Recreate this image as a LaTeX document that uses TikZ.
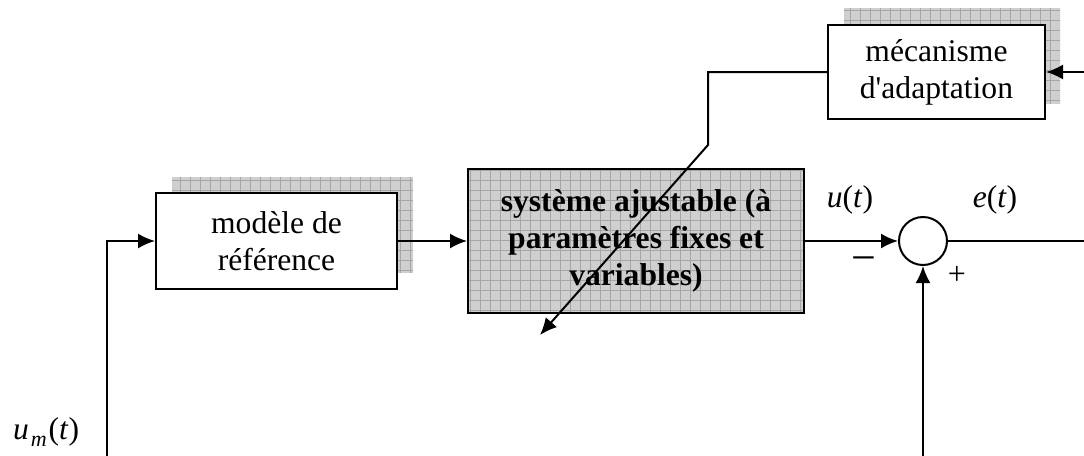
\documentclass[tikz,border=0pt]{standalone}
\usepackage{fontspec}
\setmainfont{Liberation Serif}[Ligatures=TeXOff]
\usetikzlibrary{arrows.meta}
\newcommand{\shadowgrid}[4]{%
  \fill[gray!38] (#1,#2) rectangle (#3,#4);
  \begin{scope}
    \clip (#1,#2) rectangle (#3,#4);
    \draw[gray!70, line width=0.35pt, step=5pt] (#1,#2) grid (#3,#4);
  \end{scope}}
\begin{document}
\begin{tikzpicture}[x=0.5pt,y=-0.5pt,
  line width=1pt,
  >={Latex[length=8.5pt,width=7.5pt]},
  txt/.style={font=\fontsize{15.8}{18.4}\selectfont, align=center},
  blk/.style={draw, line width=1pt, fill=white, inner sep=0pt, txt},
  lbl/.style={font=\fontsize{15.8}{18.4}\selectfont, inner sep=0pt}]
\useasboundingbox (0,0) rectangle (1084,456);
% shadows
\shadowgrid{172}{177}{413}{273}
\shadowgrid{844}{8}{1060}{104}
% blocks
\node[blk, minimum width=120.5pt, minimum height=48pt] (modele) at (276.5,241) {modèle de\\référence};
\node[blk, minimum width=108.5pt, minimum height=47pt] (meca) at (936.5,72) {mécanisme\\d'adaptation};
% adjustable system (patterned fill)
\shadowgrid{468}{169}{804}{313}
\node[draw, line width=1pt, inner sep=0pt, minimum width=168pt, minimum height=72pt, txt, font=\fontsize{15.8}{18.4}\selectfont\bfseries] (sys) at (636,241) {système ajustable (à\\paramètres fixes et\\variables)};
\node[draw, circle, line width=1pt, minimum size=24pt, inner sep=0pt, fill=white] (sum) at (923,241) {};
% coordinates
\coordinate (in) at (107,456);
\coordinate (eout) at (1084,241);
\coordinate (ybot) at (923,456);
\coordinate (mecin) at (1084,72);
\coordinate (k1) at (708,145);
\coordinate (tip) at (540,335);
% connectors
\draw[->] (in) |- (modele.west);
\draw[->] (modele.east) -- (sys.west);
\draw[->] (sys.east) -- (sum.west);
\draw (sum.east) -- (eout);
\draw[->] (ybot) -- (sum.south);
\draw[->] (mecin) -- (meca.east);
\draw[->] (meca.west) -| (k1) -- (tip);
% labels
\node[lbl] (lu) at (850,200) {\textit{u}(\textit{t})};
\node[lbl] (le) at (995,200) {\textit{e}(\textit{t})};
\node[lbl, anchor=west] (lum) at (12,432) {\textit{u}\kern1pt\raisebox{-0.5ex}{\fontsize{11}{12}\selectfont\textit{m}}\kern1pt(\textit{t})};
\node[lbl, font=\fontsize{22}{24}\selectfont] (lminus) at (864,265) {−};
\node[lbl, font=\fontsize{16}{18}\selectfont] (lplus) at (957,275) {+};
\end{tikzpicture}
\end{document}
